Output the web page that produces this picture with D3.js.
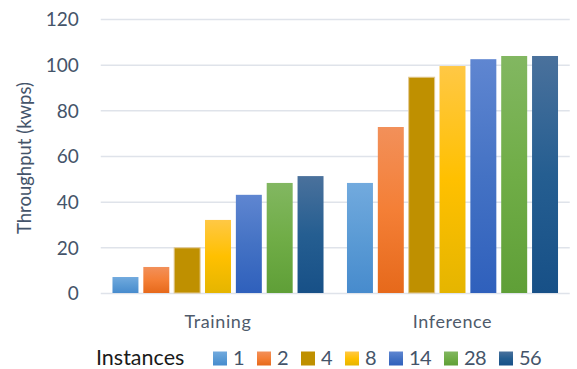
<!DOCTYPE html>
<html>
<head>
<meta charset="utf-8">
<script src="https://cdn.jsdelivr.net/npm/d3@7"></script>
<style>
  html, body { margin: 0; padding: 0; background: #fff; }
  svg { display: block; font-family: Lato, "Open Sans", sans-serif; }
</style>
</head>
<body>
<svg id="chart" width="577" height="369"></svg>
<script>
// Throughput by workload for each instance count
const categories = ["Training", "Inference"];
const instances = ["1", "2", "4", "8", "14", "28", "56"];
const training  = [7.0, 11.4, 19.8, 32.0, 43.0, 48.2, 51.2];
const inference = [48.2, 72.7, 94.5, 99.4, 102.4, 103.8, 103.8];
const yTicks = [0, 20, 40, 60, 80, 100, 120];

// gradient stops per series: [top, middle, bottom]
const colors = [
  ["#72aade", "#5b9bd5", "#478bcd"],
  ["#f2905a", "#f47f36", "#e6691b"],
  ["#bf9000", "#bf9000", "#bf9000"],
  ["#ffc845", "#ffc000", "#e5b500"],
  ["#5f86d1", "#4472c4", "#2f60bc"],
  ["#82b761", "#70ad47", "#5f9f37"],
  ["#4a719c", "#255e91", "#175087"]
];

const seriesValues = [training, inference];

const svg = d3.select("#chart");
const margin = { left: 100.75, right: 7.25, top: 19, bottom: 76 };
const W = 577, H = 369;

const x0 = d3.scaleBand().domain(categories).range([margin.left, W - margin.right]).padding(0);
const x1 = d3.scaleBand().domain(instances)
  .range([x0.bandwidth() * 0.05, x0.bandwidth() * 0.95])
  .paddingInner(0.158).paddingOuter(0);
const y = d3.scaleLinear().domain([0, 120]).range([H - margin.bottom, margin.top]);

// gradients
const defs = svg.append("defs");
colors.forEach((c, i) => {
  const g = defs.append("linearGradient").attr("id", "g" + i)
    .attr("x1", 0).attr("y1", 0).attr("x2", 0).attr("y2", 1);
  g.append("stop").attr("offset", "0%").attr("stop-color", c[0]);
  g.append("stop").attr("offset", "50%").attr("stop-color", c[1]);
  g.append("stop").attr("offset", "100%").attr("stop-color", c[2]);
});

// gridlines
const yAxis = d3.axisLeft(y).tickValues(yTicks).tickSize(-(W - margin.right - margin.left)).tickPadding(22);
const ga = svg.append("g").attr("transform", `translate(${margin.left},0)`).call(yAxis);
ga.select(".domain").remove();
ga.selectAll(".tick line").attr("stroke", "#dfe3ea").attr("stroke-width", 1.5);
ga.selectAll(".tick text")
  .attr("fill", "#44546a").attr("font-size", 19).attr("font-family", "Lato, sans-serif")
  .attr("dy", "0.36em");

// bars
const groups = svg.append("g").selectAll("g").data(categories).join("g")
  .attr("transform", d => `translate(${x0(d)},0)`);
groups.selectAll("rect")
  .data((d, ci) => instances.map((k, i) => ({ k, i, v: seriesValues[ci][i] })))
  .join("rect")
  .attr("x", d => x1(d.k))
  .attr("width", x1.bandwidth())
  .attr("y", d => y(d.v))
  .attr("height", d => y(0) - y(d.v))
  .attr("fill", d => `url(#g${d.i})`)
  .attr("stroke", d => d.i === 2 ? "#e3c993" : "none")
  .attr("stroke-width", 1);

// category axis labels
svg.append("g").selectAll("text").data(categories).join("text")
  .attr("x", d => x0(d) + x0.bandwidth() / 2)
  .attr("y", 328)
  .attr("text-anchor", "middle")
  .attr("fill", "#4f5b6b")
  .attr("font-size", 18)
  .attr("letter-spacing", 0.6)
  .text(d => d);

// y axis title
svg.append("text")
  .attr("transform", `translate(31,${(margin.top + H - margin.bottom) / 2 + 2}) rotate(-90)`)
  .attr("text-anchor", "middle")
  .attr("fill", "#44546a")
  .attr("font-size", 18.5)
  .text("Throughput (kwps)");

// legend: swatch, label, then a fixed gap per character
const lg = svg.append("g").attr("transform", "translate(0,365)");
lg.append("text").attr("x", 96).attr("y", 0)
  .attr("fill", "#1a1a1a").attr("font-size", 21.5).text("Instances");
let lx = 213;
instances.forEach((k, i) => {
  lg.append("rect").attr("x", lx).attr("y", -13.5).attr("width", 14).attr("height", 14)
    .attr("fill", `url(#g${i})`);
  lg.append("text").attr("x", lx + 20).attr("y", 0)
    .attr("fill", "#44546a").attr("font-size", 20).attr("letter-spacing", -0.6).text(k);
  lx += 20 + 11 * k.length + 13;
});
</script>
</body>
</html>
